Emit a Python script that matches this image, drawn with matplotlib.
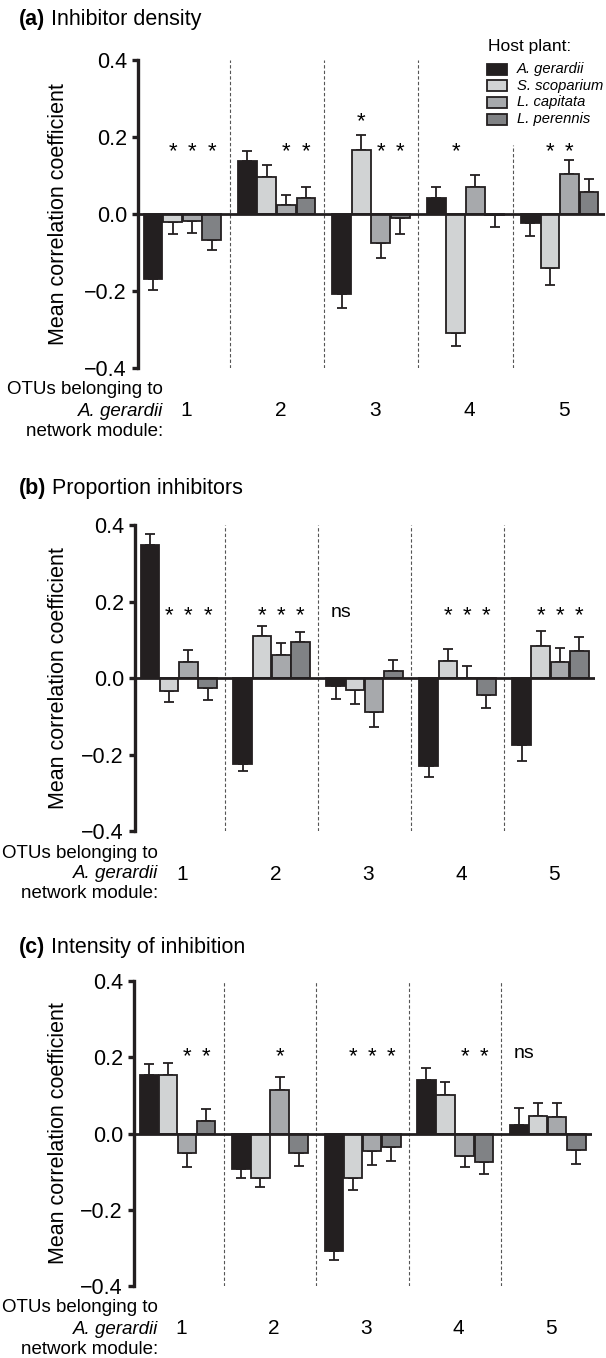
import numpy as np
import matplotlib.pyplot as plt
from matplotlib.patches import Rectangle
from matplotlib.transforms import blended_transform_factory

plt.rcParams['font.family'] = ['Liberation Sans', 'DejaVu Sans']

# host plants and modules
hosts = ['A. gerardii', 'S. scoparium', 'L. capitata', 'L. perennis']
host_colors = ['#231f20', '#d1d3d4', '#a7a9ac', '#808285']
modules = ['1', '2', '3', '4', '5']

# (a) inhibitor density: rows = hosts, cols = modules
density_mean = [[-0.170, 0.138, -0.208, 0.041, -0.024],
                [-0.021, 0.097, 0.167, -0.309, -0.140],
                [-0.017, 0.024, -0.076, 0.069, 0.104],
                [-0.067, 0.041, -0.010, -0.002, 0.056]]
density_err = [[0.027, 0.026, 0.035, 0.029, 0.034],
               [0.030, 0.030, 0.039, 0.034, 0.045],
               [0.033, 0.025, 0.037, 0.032, 0.037],
               [0.027, 0.028, 0.041, 0.032, 0.036]]
density_sig = [[1, 2, 3], [2, 3], [1, 2, 3], [1], [1, 2]]

# (b) proportion inhibitors
prop_mean = [[0.348, -0.225, -0.022, -0.230, -0.176],
             [-0.033, 0.110, -0.031, 0.045, 0.083],
             [0.041, 0.061, -0.089, 0.001, 0.043],
             [-0.026, 0.095, 0.017, -0.044, 0.071]]
prop_err = [[0.028, 0.018, 0.032, 0.030, 0.042],
            [0.031, 0.027, 0.036, 0.032, 0.039],
            [0.033, 0.030, 0.038, 0.030, 0.035],
            [0.031, 0.026, 0.030, 0.035, 0.036]]
prop_sig = [[1, 2, 3], [1, 2, 3], 'ns', [1, 2, 3], [1, 2, 3]]

# (c) intensity of inhibition
intens_mean = [[0.153, -0.093, -0.307, 0.141, 0.022],
               [0.153, -0.116, -0.118, 0.100, 0.045],
               [-0.052, 0.115, -0.047, -0.060, 0.044],
               [0.033, -0.052, -0.035, -0.076, -0.044]]
intens_err = [[0.028, 0.025, 0.025, 0.030, 0.046],
              [0.031, 0.025, 0.031, 0.036, 0.036],
              [0.035, 0.032, 0.036, 0.029, 0.036],
              [0.030, 0.033, 0.037, 0.031, 0.037]]
intens_sig = [[2, 3], [2], [1, 2, 3], [2, 3], 'ns']

W, H = 606, 1358
fig = plt.figure(figsize=(W / 100, H / 100), dpi=100)
dark = '#231f20'
fs = 15.5

panels = [
    # letter, title, means, errs, sig, box (left, top, right, bottom px), title y, star y, text x
    ('(a)', 'Inhibitor density', density_mean, density_err, density_sig,
     (138, 60, 605, 368), 20, 0.17, 163),
    ('(b)', 'Proportion inhibitors', prop_mean, prop_err, prop_sig,
     (135, 525, 595, 831), 488, 0.17, 158),
    ('(c)', 'Intensity of inhibition', intens_mean, intens_err, intens_sig,
     (134, 981, 592, 1286), 948, 0.21, 158),
]

x = np.arange(len(modules))
offsets = np.array([-1.5, -0.5, 0.5, 1.5]) * 0.207
bw = 0.2

for k, (letter, title, means, errs, sig, box, ty, star_y, tx) in enumerate(panels):
    left, top, right, bottom = box
    ax = fig.add_axes([left / W, 1 - bottom / H, (right - left) / W, (bottom - top) / H])
    ax.set_xlim(-0.47, 4.48)
    ax.set_ylim(-0.4, 0.4)

    for j in range(len(hosts)):
        m = np.array(means[j])
        e = np.array(errs[j])
        lo = np.where(m < 0, e, 0)
        hi = np.where(m >= 0, e, 0)
        ax.errorbar(x + offsets[j], m, yerr=[lo, hi], fmt='none', ecolor=dark,
                    elinewidth=1.3, capsize=3.6, capthick=1.3, zorder=2)
        ax.bar(x + offsets[j], m, width=bw, color=host_colors[j], edgecolor=dark,
               linewidth=1.3, zorder=3, label=hosts[j])

    ax.axhline(0, color=dark, lw=2.0, zorder=4)

    div_top = [0.4] * 4
    if k == 0:
        div_top[3] = 0.18
    ax.vlines(x[:-1] + 0.5, -0.4, div_top, colors='#555555', linestyles=(0, (3, 2)),
              linewidth=0.8, zorder=1)

    # significance marks
    for i, s in enumerate(sig):
        if s == 'ns':
            ax.text(i - 0.25, star_y, 'ns', ha='center', va='center', fontsize=14)
            continue
        for j in s:
            m = means[j][i]
            tip = max(m, 0) + (errs[j][i] if m > 0 else 0)
            y = tip + 0.042 if tip > star_y - 0.01 else star_y
            ax.text(i + offsets[j], y - 0.008, '*', ha='center', va='center', fontsize=16)

    for side in ['top', 'right', 'bottom']:
        ax.spines[side].set_visible(False)
    ax.spines['left'].set_linewidth(2.4)
    ax.spines['left'].set_color(dark)
    yt = [-0.4, -0.2, 0.0, 0.2, 0.4]
    ax.set_yticks(yt, [('%.1f' % t).replace('-', '\u2212') for t in yt])
    ax.set_xticks([])
    ax.tick_params(axis='y', direction='out', length=4, width=2.4, color=dark,
                   labelsize=fs, pad=4)

    # title
    t1 = fig.text(19 / W, 1 - ty / H, letter, weight='bold', fontsize=15.5,
                  ha='left', va='center')
    ax.annotate(' ' + title, xy=(1, 0.5), xycoords=t1, ha='left', va='center',
                fontsize=15.5)

    # y label
    fig.text(58 / W, 1 - ((top + bottom) / 2) / H, 'Mean correlation coefficient',
             rotation=90, ha='center', va='center', fontsize=15.5)

    # x labels
    fig.text(tx / W, 1 - (bottom + 22) / H, 'OTUs belonging to', ha='right',
             va='center', fontsize=13.5)
    fig.text(tx / W, 1 - (bottom + 43) / H, 'A. gerardii', ha='right', va='center',
             fontsize=13.5, style='italic')
    fig.text(tx / W, 1 - (bottom + 63) / H, 'network module:', ha='right',
             va='center', fontsize=13.5)
    trans = blended_transform_factory(ax.transData, fig.transFigure)
    for i, lab in enumerate(modules):
        ax.text(i + 0.04, 1 - (bottom + 43) / H, lab, transform=trans, ha='center',
                va='center', fontsize=15)

# legend
fig.text(488 / W, 1 - 47 / H, 'Host plant:', ha='left', va='center', fontsize=12.5)
for j, (name, c) in enumerate(zip(hosts, host_colors)):
    yc = 69 + j * 16.7
    fig.add_artist(Rectangle((487 / W, 1 - (yc + 5.5) / H), 20 / W, 11 / H,
                             transform=fig.transFigure, facecolor=c,
                             edgecolor=dark, linewidth=1.3))
    fig.text(517 / W, 1 - yc / H, name, ha='left', va='center', fontsize=10.6,
             style='italic')

fig.savefig('out.png', dpi=100)
